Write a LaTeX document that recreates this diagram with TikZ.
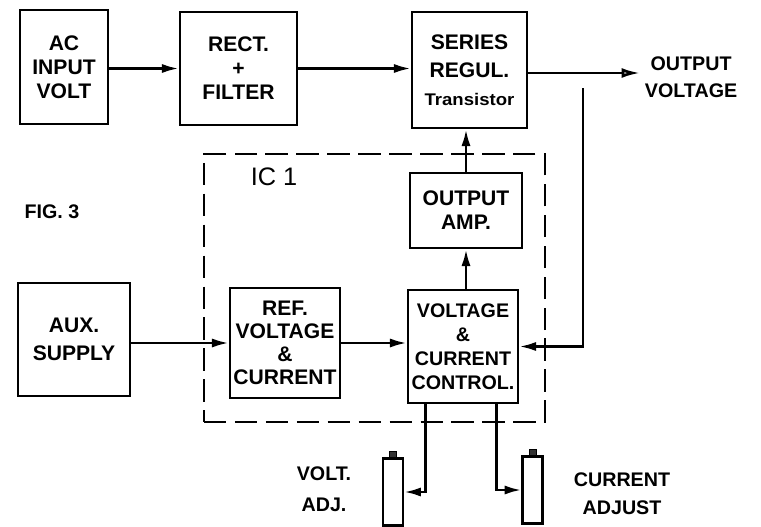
\documentclass[tikz,border=0pt]{standalone}
\usepackage{fontspec}
\setsansfont{Liberation Sans}
\usetikzlibrary{arrows.meta, positioning, calc}

\begin{document}
\begin{tikzpicture}[
  x=0.025cm, y=-0.025cm,
  >={Latex[length=12pt, width=6.5pt]},
  every node/.style={font=\sffamily\bfseries\fontsize{15}{17}\selectfont},
  block/.style={rectangle, draw=black, line width=1.7pt, align=center,
    inner sep=2pt},
  icbox/.style={rectangle, draw=black, line width=1.8pt,
    dash pattern=on 16pt off 6pt, inner sep=0pt},
  pot/.style={rectangle, draw=black, line width=1.5pt, inner sep=0pt,
    minimum width=0.5cm, minimum height=1.675cm},
  pottab/.style={rectangle, draw=black, fill=black!80, inner sep=0pt,
    minimum width=0.18cm, minimum height=0.15cm},
  sidetext/.style={align=center},
  flow/.style={->, line width=1.9pt},
  outflow/.style={-{Latex[open, length=13pt, width=7pt]}, line width=1.9pt}
]
  \useasboundingbox (0,0) rectangle (761,526);

  % Top row
  \node[block, minimum width=2.2cm, minimum height=2.85cm] (acin) at (64,67)
    {AC\\INPUT\\VOLT};
  \node[block, minimum width=2.925cm, minimum height=2.825cm] (rect) at (238.5,68.5)
    {RECT.\\+\\FILTER};
  \node[block, minimum width=2.875cm, minimum height=2.9cm,
    font=\sffamily\bfseries\fontsize{15}{20}\selectfont] (series) at (469.5,70)
    {SERIES\\REGUL.\\{\fontsize{12}{14}\selectfont\scalebox{1.1}[1]{Transistor}}};
  \node[sidetext, anchor=west, font=\sffamily\bfseries\fontsize{14}{19}\selectfont]
    (outv) at (640,77) {OUTPUT\\VOLTAGE};

  % IC 1
  \node[icbox, minimum width=8.525cm, minimum height=6.7cm] (ic) at (374.5,288) {};
  \node[font=\sffamily\fontsize{18}{20}\selectfont] (iclabel) at (274,177) {IC 1};
  \node[block, minimum width=2.8cm, minimum height=1.875cm] (outamp) at (466,210.5)
    {OUTPUT\\AMP.};
  \node[block, minimum width=2.75cm, minimum height=2.75cm,
    font=\sffamily\bfseries\fontsize{15}{16.5}\selectfont] (ref) at (285,343)
    {REF.\\VOLTAGE\\\&\\CURRENT};
  \node[block, minimum width=2.75cm, minimum height=2.825cm,
    font=\sffamily\bfseries\fontsize{14}{17}\selectfont] (ctrl) at (463,346.5)
    {VOLTAGE\\\&\\CURRENT\\CONTROL.};

  \node[font=\sffamily\bfseries\fontsize{14}{16}\selectfont] (fig) at (52,212) {FIG. 3};
  \node[block, minimum width=2.8cm, minimum height=2.825cm,
    font=\sffamily\bfseries\fontsize{15}{20}\selectfont] (aux) at (74,339.5)
    {AUX.\\SUPPLY};

  % Adjust pots
  \node[pot] (pot1) at (393,492) {};
  \node[pottab, above=0pt of pot1] (tab1) {};
  \node[pot] (pot2) at (532.5,490) {};
  \node[pottab, above=0pt of pot2] (tab2) {};
  \node[sidetext, font=\sffamily\bfseries\fontsize{14}{22}\selectfont] (voltadj)
    at (324,489) {VOLT.\\ADJ.};
  \node[sidetext, font=\sffamily\bfseries\fontsize{14}{20}\selectfont] (curadj)
    at (622,494) {CURRENT\\ADJUST};

  % Main flow
  \draw[flow] (acin.east |- rect.west) -- (rect.west);
  \draw[flow] (rect.east) -- (rect.east -| series.west);
  \draw[outflow] (series.east |- outv.west) ++(0,-4) coordinate (oout) -- (oout -| outv.west);
  \draw[flow] (outamp.north) -- (outamp.north |- series.south);
  \draw[flow] (outamp.south |- ctrl.north) -- (outamp.south);
  \draw[flow] (aux.east |- ref.west) -- (ref.west);
  \draw[flow] (ref.east) -- (ref.east -| ctrl.west);

  % Feedback from output
  \coordinate (fbtop) at (583,88);
  \draw[flow] (fbtop) |- (ctrl.east);

  % Adjust taps
  \coordinate (vtap) at ($(ctrl.south west)+(19,0)$);
  \coordinate (itap) at ($(ctrl.south east)+(-23,0)$);
  \draw[flow] (vtap) |- (pot1.east);
  \draw[flow] (itap) |- (pot2.west);
\end{tikzpicture}
\end{document}
